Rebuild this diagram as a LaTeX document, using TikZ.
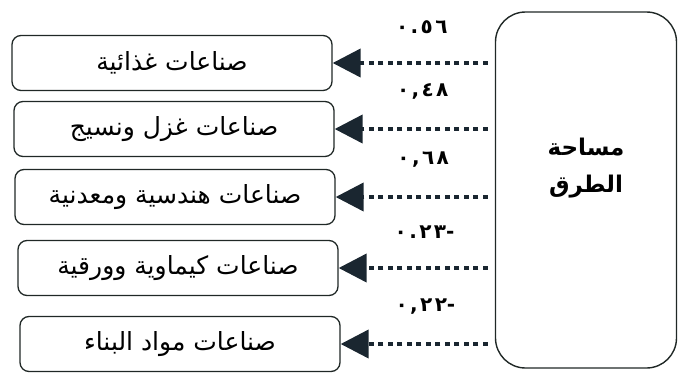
\documentclass[tikz,border=0pt]{standalone}
\usepackage{fontspec}
\usetikzlibrary{arrows.meta,positioning}
\TeXXeTstate=1
\newfontfamily\arabicfont[Script=Arabic]{DejaVu Sans}
\newcommand{\rtl}[1]{\beginR #1\endR}
\definecolor{linkcol}{RGB}{26,38,48}
\definecolor{boxcol}{RGB}{32,40,38}

\begin{document}
\begin{tikzpicture}[x=1pt,y=-1pt]
        \tikzset{sector/.style={draw=boxcol, rounded corners=9pt, line width=1.3pt,
            minimum width=320pt, minimum height=55pt, inner sep=0pt,
            font=\arabicfont\fontsize{25}{28}\selectfont}}
        \tikzset{link/.style={draw=linkcol, line width=4pt,
            dash pattern=on 5pt off 4.5pt, shorten <=7pt,
            -{Triangle[length=28pt,width=28pt]}}}
        \tikzset{coef/.style={font=\arabicfont\bfseries\fontsize{20}{22}\selectfont
              \addfontfeature{LetterSpace=12},
            above=24pt, pos=0.45}}

        \useasboundingbox (0,0) rectangle (685,378);

        % left column
        \node[sector] (food)    at (172,63)  {\rtl{صناعات غذائية}};
        \node[sector] (textile) at (174,129) {\rtl{صناعات غزل ونسيج}};
        \node[sector] (metal)   at (175,197) {\rtl{صناعات هندسية ومعدنية}};
        \node[sector] (chem)    at (178,268) {\rtl{صناعات كيماوية وورقية}};
        \node[sector] (build)   at (180,344) {\rtl{صناعات مواد البناء}};

        % right box
        \node[draw=boxcol, rounded corners=30pt, line width=1.4pt,
              minimum width=181pt, minimum height=356pt,
              label={[align=center, yshift=22pt,
                font=\arabicfont\bfseries\fontsize{23}{37}\selectfont]
                center:\rtl{مساحة}\\\rtl{الطرق}}]
              (roads) at (586,190) {};

        \draw[link] (roads.west |- food.east) -- (food.east)
            node[coef] {٠.٥٦};
        \draw[link] (roads.west |- textile.east) -- (textile.east)
            node[coef] {٠,٤٨};
        \draw[link] (roads.west |- metal.east) -- (metal.east)
            node[coef] {٠,٦٨};
        \draw[link] (roads.west |- chem.east) -- (chem.east)
            node[coef] {٠.٢٣\hbox{-}};
        \draw[link] (roads.west |- build.east) -- (build.east)
            node[coef] {٠,٢٢\hbox{-}};
\end{tikzpicture}
\end{document}
